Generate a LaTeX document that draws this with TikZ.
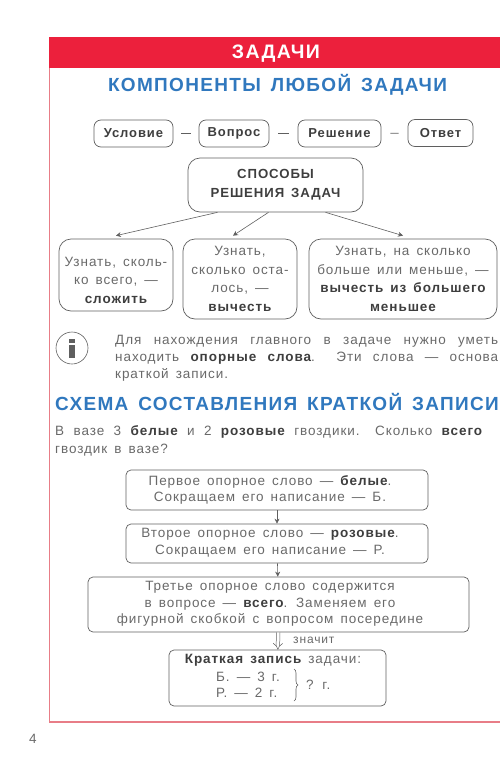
\documentclass[tikz,border=0pt]{standalone}
\usepackage{fontspec}
\setmainfont[LetterSpace=7,WordSpace=1.5]{Liberation Sans}
\usetikzlibrary{arrows.meta, calc, decorations.pathreplacing}
\definecolor{myred}{RGB}{236,32,60}
\definecolor{myframe}{RGB}{232,125,135}
\definecolor{myblue}{RGB}{48,120,190}
\definecolor{mydark}{RGB}{62,62,62}
\definecolor{mytext}{RGB}{105,105,105}
\definecolor{myline}{RGB}{95,95,95}
\tikzset{
  block/.style={rectangle, draw=myline, rounded corners=12pt, line width=0.7pt,
    align=center, inner sep=0pt, text=mytext, font=\fontsize{13.5}{18.7}\selectfont},
  wordblock/.style={block, rounded corners=7pt, minimum height=27pt, text=mydark,
    font=\fontsize{13}{17}\selectfont\bfseries},
  stepblock/.style={block, rounded corners=5pt},
  steptext/.style={align=center, inner sep=0pt, text=mytext, font=\fontsize{13.5}{16.5}\selectfont},
  heading/.style={text=myblue, inner sep=0pt, font=\fontsize{19}{22}\selectfont\bfseries},
  plain/.style={text=mytext, inner sep=0pt, font=\fontsize{13.5}{17}\selectfont},
  arrow/.style={-{Stealth[length=5pt,width=5pt]}, line width=0.6pt, color=myline},
  line/.style={line width=0.9pt, color=myline}
}
\newcommand{\keyword}[1]{\textcolor{mydark}{\bfseries #1}}
\newcommand{\fullline}[2]{\makebox[#1][s]{#2}}

\begin{document}
\begin{tikzpicture}[x=1pt,y=-1pt]
  \useasboundingbox (0,0) rectangle (500,774);
  % Red band and frame
  \draw[line width=1.5pt, color=myframe] (49.7,68) -- (49.7,722) -- (500,722);
  \fill[myred] (49,37) rectangle (500,68);
  \node[text=white, inner sep=0pt, font=\fontsize{19.5}{22}\selectfont\bfseries] (title) at (276,54) {ЗАДАЧИ};
  \node[heading] (parts) at (277.5,85) {КОМПОНЕНТЫ ЛЮБОЙ ЗАДАЧИ};
  % Components
  \node[wordblock, minimum width=79pt] (cond) at (133.5,133.5) {Условие};
  \node[wordblock, minimum width=70pt] (quest) at (234,133.5) {Вопрос};
  \node[wordblock, minimum width=83pt] (solve) at (339.5,133.5) {Решение};
  \node[wordblock, minimum width=65pt] (answer) at (440.5,133) {Ответ};
  \draw[line, shorten <=8pt, shorten >=8pt] (cond) -- (quest);
  \draw[line, shorten <=9pt, shorten >=9pt] (quest) -- (solve);
  \draw[line, shorten <=9pt, shorten >=9pt] (solve) -- (answer);
  % Ways of solving
  \node[block, minimum width=175pt, minimum height=54pt, text=mydark,
    font=\fontsize{13.2}{19}\selectfont\bfseries] (ways) at (275.5,185) {СПОСОБЫ\\РЕШЕНИЯ ЗАДАЧ};
  \node[block, minimum width=114pt, minimum height=72pt] (add) at (116,275)
    {\rule{0pt}{20pt}Узнать, сколь-\\ко всего, —\\\keyword{сложить}};
  \node[block, minimum width=114pt, minimum height=80pt] (sub) at (240,279)
    {Узнать,\\сколько оста-\\лось, —\\\keyword{вычесть}};
  \node[block, minimum width=188pt, minimum height=80pt] (diff) at (403,279)
    {Узнать, на сколько\\больше или меньше, —\\\keyword{вычесть из большего}\\\keyword{меньшее}};
  \draw[arrow] ([xshift=-58pt]ways.south) -- ([yshift=3pt]add.north);
  \draw[arrow] ([xshift=-7pt]ways.south) -- ([yshift=3pt,xshift=-7pt]sub.north);
  \draw[arrow] ([xshift=50pt]ways.south) -- ([yshift=3pt]diff.north);
  % Info sign
  \node[circle, draw=myline, line width=0.6pt, minimum size=32pt, inner sep=0pt] (info) at (72,348) {};
  \fill[myline] (69,339) rectangle (75,343);
  \fill[myline] (69,345) rectangle (75,358);
  \node[plain, anchor=north west, align=left] (note) at (115,335)
    {\fullline{383pt}{Для нахождения главного в задаче нужно уметь}\\
     \fullline{383pt}{находить \keyword{опорные слова}. Эти слова — основа}\\
     краткой записи.};
  \node[heading, anchor=west] (scheme) at (55,401.5) {СХЕМА СОСТАВЛЕНИЯ КРАТКОЙ ЗАПИСИ};
  \node[plain, anchor=north west, align=left] (task) at (55,425)
    {\fullline{427pt}{В вазе 3 \keyword{белые} и 2 \keyword{розовые} гвоздики. Сколько \keyword{всего}}\\[1.5pt]
     гвоздик в вазе?};
  % Steps
  \node[stepblock, minimum width=302pt, minimum height=40pt] (first) at (277,490) {};
  \node[steptext] (firsttext) at (270,490)
    {Первое опорное слово — \keyword{белые}.\\Сокращаем его написание — Б.};
  \node[stepblock, minimum width=302pt, minimum height=39pt] (second) at (277,543.5) {};
  \node[steptext] (secondtext) at (270,542.5)
    {Второе опорное слово — \keyword{розовые}.\\Сокращаем его написание — Р.};
  \node[stepblock, minimum width=381pt, minimum height=55pt] (third) at (278.5,604.5) {};
  \node[steptext] (thirdtext) at (270,604)
    {Третье опорное слово содержится\\в вопросе — \keyword{всего}. Заменяем его\\фигурной скобкой с вопросом посередине};
  \node[stepblock, minimum width=217pt, minimum height=56pt] (brief) at (277.5,678) {};
  \draw[arrow] (first) -- (second);
  \draw[arrow] (second) -- (third);
  \draw[-{Implies}, double, double distance=3pt, line width=0.5pt, color=myline] (third) -- (brief);
  \node[plain, anchor=west, font=\fontsize{12}{14}\selectfont] (means) at (293,640) {значит};
  % Short record
  \node[plain] (head) at (273,660) {\keyword{Краткая запись} задачи:};
  \node[plain, anchor=west] (rowb) at (216,677) {Б. — 3 г.};
  \node[plain, anchor=west] (rowr) at (216,693) {Р. — 2 г.};
  \draw[decorate, decoration={brace, amplitude=4pt}, line width=0.6pt, color=myline] (294,669) -- (294,701);
  \node[plain, anchor=west] (total) at (306,685) {? г.};
  \node[plain] (page) at (33,739) {4};
\end{tikzpicture}
\end{document}
